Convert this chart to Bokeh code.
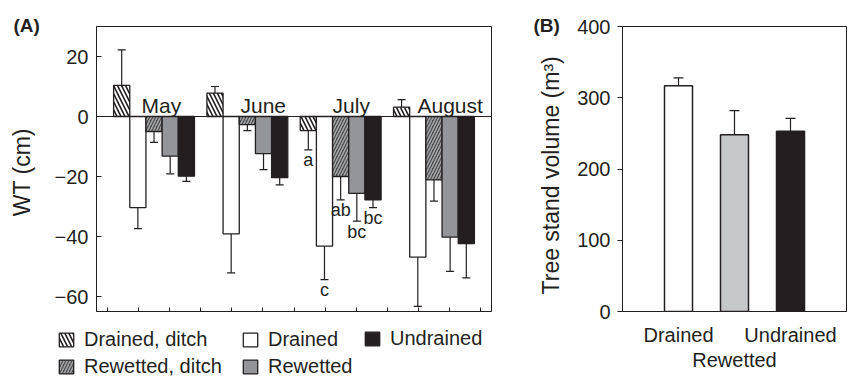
from bokeh.plotting import figure
from bokeh.layouts import row, column
from bokeh.models import (ColumnDataSource, Whisker, TeeHead, Span, Label, Legend,
                          LegendItem, FixedTicker, LinearAxis, Range1d)
from bokeh.core.properties import value
from bokeh.embed import file_html
from bokeh.resources import INLINE

# ---------------- data ----------------
months = ["May", "June", "July", "August"]
treatments = ["Drained, ditch", "Drained", "Rewetted, ditch", "Rewetted", "Undrained"]
wt_drained_ditch = [10.4, 7.8, -4.7, 3.1]
wt_drained_ditch_err = [11.8, 2.2, 6.4, 2.5]
wt_drained = [-30.4, -39.1, -43.2, -46.9]
wt_drained_err = [7.0, 13.0, 11.2, 16.4]
wt_rewetted_ditch = [-5.0, -2.7, -20.0, -21.1]
wt_rewetted_ditch_err = [3.6, 2.0, 7.8, 7.1]
wt_rewetted = [-13.2, -12.4, -25.6, -40.2]
wt_rewetted_err = [5.9, 5.3, 9.3, 11.4]
wt_undrained = [-19.9, -20.4, -27.8, -42.4]
wt_undrained_err = [1.7, 2.4, 2.6, 11.4]
july_letters = ["a", "c", "ab", "bc", "bc"]
wt_ticks = [-60, -40, -20, 0, 20]

sites = ["Drained", "Rewetted", "Undrained"]
volume = [317, 248, 253]
volume_err = [11, 34, 18]
volume_ticks = [0, 100, 200, 300, 400]

# ---------------- style ----------------
FONT = "Liberation Sans"
INK = "#231f20"
TICK_FS = "20px"
LABEL_FS = "23px"
BW = 0.52  # bar width (panel A)
month_label_dx = [-0.40, -0.22, -0.26, -0.53]

wt_values = [wt_drained_ditch, wt_drained, wt_rewetted_ditch, wt_rewetted, wt_undrained]
wt_errors = [wt_drained_ditch_err, wt_drained_err, wt_rewetted_ditch_err, wt_rewetted_err, wt_undrained_err]
styles = [
    dict(fill_color="white", hatch_pattern="\\", hatch_color=INK, hatch_weight=1.6, hatch_scale=8),
    dict(fill_color="white"),
    dict(fill_color="#4a4a4c", hatch_pattern="/", hatch_color="#a3a4a6", hatch_weight=1.6, hatch_scale=6),
    dict(fill_color="#939598"),
    dict(fill_color=INK),
]

def style_axes(p):
    for ax in p.axis:
        ax.axis_line_color = INK
        ax.major_tick_line_color = INK
        ax.minor_tick_line_color = None
        ax.major_label_text_font = FONT
        ax.major_label_text_font_size = TICK_FS
        ax.major_label_text_color = INK
        ax.axis_label_text_font = FONT
        ax.axis_label_text_font_size = LABEL_FS
        ax.axis_label_text_font_style = "normal"
        ax.axis_label_text_color = INK
    p.grid.visible = False
    p.outline_line_color = INK
    p.outline_line_width = 1
    p.outline_line_alpha = 1

def panel_tag(p, text, dx):
    p.add_layout(Label(x=dx, y=1, x_units="screen", y_units="screen", text=text,
                       text_font=FONT, text_font_style="bold", text_font_size="19px",
                       text_color=INK, text_baseline="alphabetic"), "above")

# ---------------- panel A ----------------
pa = figure(width=515, height=320, output_backend="svg", toolbar_location=None,
            x_range=Range1d(-0.35, 12.35), y_range=Range1d(-65, 30),
            min_border_left=96, min_border_right=24, min_border_top=26, min_border_bottom=9)
group_x = [1.5 + 3 * i for i in range(len(months))]

sources = []
pos = dict(x=[], lo=[], hi=[])
neg = dict(x=[], lo=[], hi=[])
bar_x = []
for j, (vals, errs, st) in enumerate(zip(wt_values, wt_errors, styles)):
    xs = [g + (j - 2) * BW for g in group_x]
    bar_x.append(xs)
    src = ColumnDataSource(dict(x=xs, top=vals))
    sources.append(src)
    pa.vbar(x="x", top="top", bottom=0, width=BW, source=src, line_color=INK, line_width=1.3, **st)
    for x, v, e in zip(xs, vals, errs):
        if v >= 0:
            pos["x"].append(x); pos["lo"].append(v); pos["hi"].append(v + e)
        else:
            neg["x"].append(x); neg["lo"].append(v - e); neg["hi"].append(v)

pa.add_layout(Whisker(source=ColumnDataSource(pos), base="x", lower="lo", upper="hi",
                      dimension="height", line_color=INK, line_width=1.2, lower_head=None,
                      upper_head=TeeHead(size=8, line_color=INK, line_width=1.2)))
pa.add_layout(Whisker(source=ColumnDataSource(neg), base="x", lower="lo", upper="hi",
                      dimension="height", line_color=INK, line_width=1.2, upper_head=None,
                      lower_head=TeeHead(size=8, line_color=INK, line_width=1.2)))
pa.add_layout(Span(location=0, dimension="width", line_color=INK, line_width=1.2))

pa.text(x=[g + d for g, d in zip(group_x, month_label_dx)], y=[0] * 4, text=months,
        text_align="left", text_baseline="bottom", text_font=value(FONT),
        text_font_size="21px", text_color=INK)

ji = months.index("July")
lx = [bar_x[j][ji] for j in range(5)]
ly = [wt_values[j][ji] - wt_errors[j][ji] if wt_values[j][ji] < 0 else wt_values[j][ji] + wt_errors[j][ji]
      for j in range(5)]
pa.text(x=lx, y=[v - 3.5 for v in ly], text=july_letters, text_align="center",
        text_baseline="alphabetic", text_font=value(FONT), text_font_size="18px", text_color=INK)

pa.yaxis.ticker = FixedTicker(ticks=wt_ticks)
pa.yaxis.major_label_overrides = {t: (f"\u2212{abs(t)}" if t < 0 else str(t)) for t in wt_ticks}
pa.yaxis.axis_label = "WT (cm)\u00a0"
pa.yaxis.major_tick_in = 5
pa.yaxis.major_tick_out = 0
pa.yaxis.major_label_standoff = 8
pa.yaxis.axis_label_standoff = 17
pa.xaxis.ticker = FixedTicker(ticks=list(range(13)))
pa.xaxis.major_tick_in = 4
pa.xaxis.major_tick_out = 0
style_axes(pa)
pa.xaxis.major_label_text_font_size = "0px"
pa.xaxis.major_label_standoff = 0
panel_tag(pa, "(A)", -83)

# ---------------- legend strip under panel A ----------------
leg = figure(width=515, height=60, output_backend="svg", toolbar_location=None,
             x_range=Range1d(100, 101), y_range=Range1d(100, 101), x_axis_location=None,
             y_axis_location=None, min_border_left=0, min_border_right=0,
             min_border_top=0, min_border_bottom=0)
leg.grid.visible = False
leg.outline_line_color = None
swatch = []
for src, st in zip(sources, styles):
    r = leg.vbar(x="x", top="top", bottom=0, width=BW, source=src, line_color=INK,
                 line_width=1.3, **st)
    r.visible = False
    swatch.append(r)

def add_legend(keys, loc):
    lg = Legend(items=[LegendItem(label=treatments[k], renderers=[swatch[k]]) for k in keys],
                location=loc, orientation="vertical", label_text_font=FONT,
                label_text_font_size=TICK_FS, label_text_color=INK, glyph_width=18,
                glyph_height=17, label_standoff=9, spacing=4, padding=0, margin=0,
                border_line_color=None, background_fill_alpha=0, inactive_fill_alpha=0)
    leg.add_layout(lg)

add_legend([0, 2], (57, 2))
add_legend([1, 3], (241, 2))
add_legend([4], (363, 30))

# ---------------- panel B ----------------
pb = figure(width=332, height=380, output_backend="svg", toolbar_location=None,
            x_range=Range1d(0, 4), y_range=Range1d(0, 400),
            min_border_left=107, min_border_right=1, min_border_top=26, min_border_bottom=69)
bx = [i + 1 for i in range(len(sites))]
pb.vbar(x=bx, top=volume, bottom=0, width=0.5, line_color=INK, line_width=1.5,
        fill_color=["white", "#c6c7c9", INK])
pb.add_layout(Whisker(source=ColumnDataSource(dict(x=bx, lo=volume,
                                                   hi=[v + e for v, e in zip(volume, volume_err)])),
                      base="x", lower="lo", upper="hi", dimension="height",
                      line_color=INK, line_width=1.2, lower_head=None,
                      upper_head=TeeHead(size=10, line_color=INK, line_width=1.2)))
pb.yaxis.ticker = FixedTicker(ticks=volume_ticks)
pb.yaxis.axis_label = "Tree stand volume (m\u00b3)\u00a0\u00a0"
pb.yaxis.major_tick_in = 0
pb.yaxis.major_tick_out = 5
pb.yaxis.major_label_standoff = 7
pb.yaxis.axis_label_standoff = 10
pb.xaxis.ticker = FixedTicker(ticks=[bx[0], bx[2]])
pb.xaxis.major_label_overrides = {bx[0]: sites[0], bx[2]: sites[2]}
pb.xaxis.major_tick_in = 0
pb.xaxis.major_tick_out = 0
pb.xaxis.major_label_standoff = 12
ax2 = LinearAxis(ticker=FixedTicker(ticks=[bx[1]]), major_label_overrides={bx[1]: sites[1]},
                 axis_line_color=None, major_tick_line_color=None, major_tick_in=0,
                 major_tick_out=0, major_label_standoff=0)
pb.add_layout(ax2, "below")
style_axes(pb)
ax2.axis_line_color = None
ax2.major_tick_line_color = None
panel_tag(pb, "(B)", -89)

layout = row(column(pa, row(leg)), pb)
with open("out.html", "w") as f:
    f.write(file_html(layout, INLINE))
